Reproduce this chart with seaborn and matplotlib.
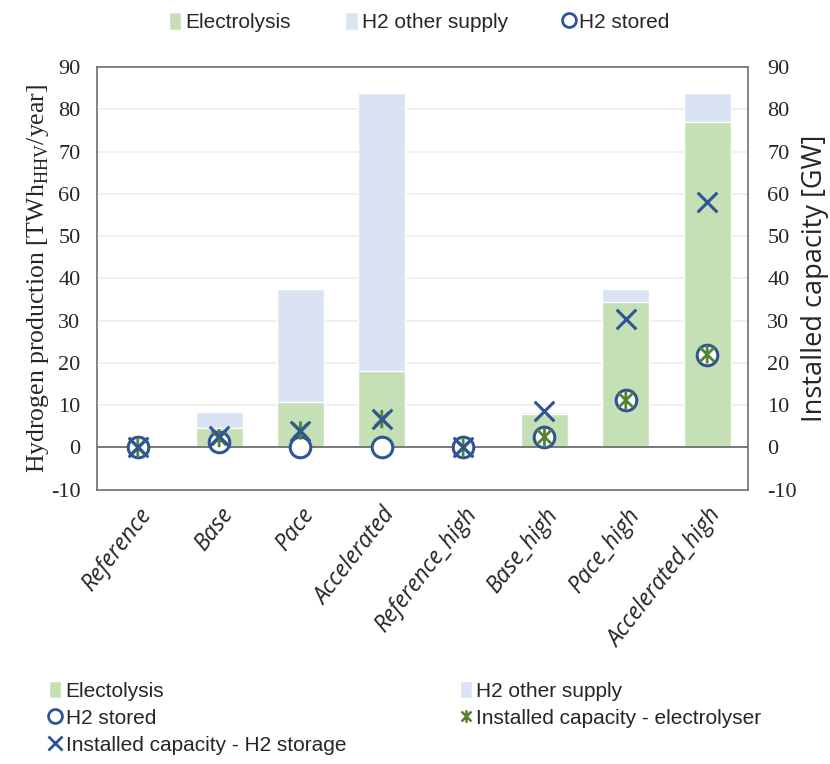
import numpy as np
import pandas as pd
import matplotlib
matplotlib.use("Agg")
import matplotlib.pyplot as plt
from matplotlib.path import Path
from matplotlib.lines import Line2D
from matplotlib.patches import Patch
import seaborn as sns

# Scenario data
scenarios = ["Reference", "Base", "Pace", "Accelerated",
             "Reference_high", "Base_high", "Pace_high", "Accelerated_high"]
electrolysis = [0.0, 4.5, 10.8, 18.0, 0.0, 8.0, 34.4, 77.0]          # TWh_HHV/year
other_supply = [0.0, 4.0, 26.7, 66.0, 0.0, 0.5, 3.1, 7.0]            # TWh_HHV/year
h2_stored = [0.0, 1.3, 0.0, 0.0, 0.0, 2.5, 11.2, 22.0]               # GW axis
cap_electrolyser = [0.0, 2.2, 4.0, 6.7, 0.0, 2.5, 11.2, 22.0]        # GW
cap_storage = [0.0, 2.8, 4.0, 6.7, 0.0, 8.6, 30.5, 58.0]             # GW
y_ticks = [-10, 0, 10, 20, 30, 40, 50, 60, 70, 80, 90]

GREEN_BAR = "#C5E0B4"
BLUE_BAR = "#DAE3F3"
BLUE_MK = "#2F5597"
GREEN_MK = "#548235"

sns.set_theme(style="white")
plt.rcParams["font.family"] = ["Liberation Serif", "DejaVu Serif"]
plt.rcParams["axes.unicode_minus"] = False

df = pd.DataFrame({
    "scenario": scenarios,
    "electrolysis": electrolysis,
    "total": np.array(electrolysis) + np.array(other_supply),
})

fig = plt.figure(figsize=(8.3, 7.64), dpi=100)
ax = fig.add_axes([0.117, 0.359, 0.784, 0.553])

# stacked bars: full supply first, electrolysis share on top of it
sns.barplot(data=df, x="scenario", y="total", color=BLUE_BAR, width=0.58,
            saturation=1, ax=ax, zorder=2)
sns.barplot(data=df, x="scenario", y="electrolysis", color=GREEN_BAR, width=0.58,
            saturation=1, ax=ax, zorder=3)

ax.set_ylim(-10, 90)
ax.set_yticks(y_ticks)
ax.set_xlim(-0.5, len(scenarios) - 0.5)
ax.grid(False)
for t in y_ticks[2:]:
    ax.axhline(t, color="#EDEDED", lw=1.2, zorder=1)
ax.axhline(0, color="#6E6E6E", lw=1.3, zorder=4)
for s in ax.spines.values():
    s.set_color("#6E6E6E")
    s.set_linewidth(1.2)
ax.tick_params(axis="y", length=0, labelsize=16, pad=12)
ax.tick_params(axis="x", length=0, pad=10)
ax.set_xlabel("")
ax.set_ylabel(r"Hydrogen production [TWh$_{\mathregular{HHV}}$/year]", fontsize=18.5, labelpad=0)
ax.set_xticks(range(len(scenarios)))
ax.set_xticklabels(scenarios, rotation=52, ha="right", rotation_mode="anchor",
                   fontsize=16.5, family="Open Sans", style="italic")

# secondary axis for installed capacity
ax2 = ax.twinx()
ax2.set_ylim(-10, 90)
ax2.set_yticks(y_ticks)
ax2.tick_params(axis="y", length=0, labelsize=16, pad=14)
ax2.grid(False)
for s in ax2.spines.values():
    s.set_visible(False)

star = Path([(-1, -1), (1, 1), (-1, 1), (1, -1), (0, -1.25), (0, 1.25)],
            [Path.MOVETO, Path.LINETO, Path.MOVETO, Path.LINETO, Path.MOVETO, Path.LINETO])
xpos = np.arange(len(scenarios))

sns.scatterplot(x=xpos, y=h2_stored, marker="o", s=220, facecolor="white",
                edgecolor=BLUE_MK, linewidth=2.2, ax=ax2, zorder=5)
sns.scatterplot(x=xpos, y=cap_electrolyser, marker=star, s=170, color=GREEN_MK,
                facecolor="none", edgecolor=GREEN_MK, linewidth=2.0, ax=ax2, zorder=6)
sns.scatterplot(x=xpos, y=cap_storage, marker="x", s=200, color=BLUE_MK,
                linewidth=2.2, ax=ax2, zorder=7)
ax2.set_ylabel("Installed capacity [GW]", family="Open Sans", fontsize=19.5, labelpad=3)
ax2.set_xlim(-0.5, len(scenarios) - 0.5)

# legends
leg_font = {"family": "Liberation Sans", "size": 15}
leg_kw = dict(frameon=False, prop=leg_font, handlelength=0.6, handleheight=0.9,
              handletextpad=0.2, labelspacing=0.35, borderpad=0, borderaxespad=0)

top_handles = [
    Patch(facecolor=GREEN_BAR, label="Electrolysis"),
    Patch(facecolor=BLUE_BAR, label="H2 other supply"),
    Line2D([], [], ls="none", marker="o", ms=10, mfc="white", mec=BLUE_MK, mew=2, label="H2 stored"),
]
fig.legend(handles=top_handles, loc="center", bbox_to_anchor=(0.505, 0.971), ncol=3,
           columnspacing=2.6, **leg_kw)

left_handles = [
    Patch(facecolor=GREEN_BAR, label="Electolysis"),
    Line2D([], [], ls="none", marker="o", ms=10, mfc="white", mec=BLUE_MK, mew=2, label="H2 stored"),
    Line2D([], [], ls="none", marker="x", ms=10, mec=BLUE_MK, mew=2,
           label="Installed capacity - H2 storage"),
]
right_handles = [
    Patch(facecolor=BLUE_BAR, label="H2 other supply"),
    Line2D([], [], ls="none", marker=star, ms=9, mfc="none", mec=GREEN_MK, mew=1.8,
           label="Installed capacity - electrolyser"),
]
fig.legend(handles=left_handles, loc="upper left", bbox_to_anchor=(0.059, 0.109), **leg_kw)
fig.legend(handles=right_handles, loc="upper left", bbox_to_anchor=(0.554, 0.109), **leg_kw)

fig.savefig("out.png", dpi=100)
